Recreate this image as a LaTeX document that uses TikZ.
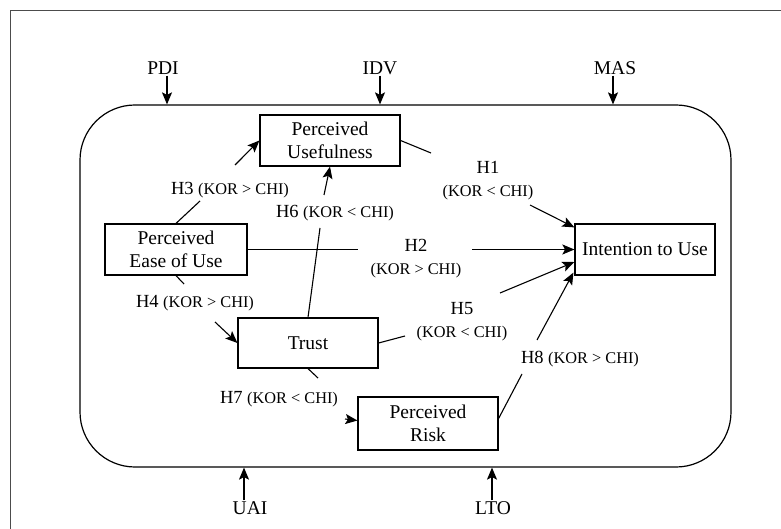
\documentclass[tikz,border=0pt]{standalone}
\usepackage{fontspec}
\setmainfont{Liberation Serif}
\usetikzlibrary{arrows.meta}
\newcommand{\hb}[1]{{\fontsize{18.5}{23}\selectfont #1}}
\newcommand{\hs}[1]{{\fontsize{16.3}{23}\selectfont #1}}
\tikzset{
  box/.style={draw, line width=1.2pt, inner sep=0pt, align=center, font=\fontsize{19.5}{23}\selectfont},
  lbl/.style={inner sep=1pt, align=center, font=\fontsize{18}{23}\selectfont},
  ext/.style={inner sep=1pt, font=\fontsize{19.5}{23}\selectfont},
  arr/.style={line width=1.1pt, -{Stealth[length=12pt,width=10pt,inset=2.5pt]}},
  ln/.style={line width=1.1pt},
}
\begin{document}
\begin{tikzpicture}[x=1pt,y=-1pt]
\useasboundingbox (0,0) rectangle (781,529);
% outer frame (cropped)
\draw[gray!60!black, line width=0.9pt] (10,529) -- (10,10) -- (781,10);
% context rounded rectangle
\node[draw, line width=1.2pt, rounded corners=55pt, minimum width=651pt, minimum height=362pt, inner sep=0pt] (ctx) at (405.5,286) {};
% external factors
\node[ext] (pdi) at (163,68) {PDI};
\node[ext] (idv) at (380,68) {IDV};
\node[ext] (mas) at (615,68) {MAS};
\node[ext] (uai) at (250,508) {UAI};
\node[ext] (lto) at (493,508) {LTO};
\draw[arr] ([xshift=4pt]pdi.south) -- ([xshift=4pt]pdi.south |- ctx.north);
\draw[arr] (idv.south) -- (idv.south |- ctx.north);
\draw[arr] ([xshift=-2pt]mas.south) -- ([xshift=-2pt]mas.south |- ctx.north);
\draw[arr] ([xshift=-6pt]uai.north) -- ([xshift=-6pt]uai.north |- ctx.south);
\draw[arr] ([xshift=-1pt]lto.north) -- ([xshift=-1pt]lto.north |- ctx.south);
% constructs
\node[box, minimum width=140pt, minimum height=51pt] (pu) at (330,140.5) {Perceived\\Usefulness};
\node[box, minimum width=142pt, minimum height=51pt] (peou) at (176,249.5) {Perceived\\Ease of Use};
\node[box, minimum width=140pt, minimum height=50pt] (trust) at (308,343) {Trust};
\node[box, minimum width=140pt, minimum height=53pt] (pr) at (428,423.5) {Perceived\\Risk};
\node[box, minimum width=140pt, minimum height=51pt] (itu) at (645,249.5) {Intention to Use};
% hypothesis labels
\node[lbl] (h3) at (230,190) {\hb{H3} \hs{(KOR > CHI)}};
\node[lbl] (h6) at (335,213) {\hb{H6} \hs{(KOR < CHI)}};
\node[lbl] (h1) at (488,181) {\hb{H1}\\\hs{(KOR < CHI)}};
\node[lbl] (h2) at (416,259) {\hb{H2}\\\hs{(KOR > CHI)}};
\node[lbl] (h5) at (462,322) {\hb{H5}\\\hs{(KOR < CHI)}};
\node[lbl] (h8) at (580,359) {\hb{H8} \hs{(KOR > CHI)}};
\node[lbl] (h4) at (195,303) {\hb{H4} \hs{(KOR > CHI)}};
\node[lbl] (h7) at (279,399) {\hb{H7} \hs{(KOR < CHI)}};
% gap coordinates
\coordinate (h3a) at (200,201); \coordinate (h3b) at (235,165);
\coordinate (h6a) at (320,228); \coordinate (h6b) at (324,195);
\coordinate (h1a) at (431,153); \coordinate (h1b) at (530,205);
\coordinate (h2a) at (358,249.5); \coordinate (h2b) at (472,249.5);
\coordinate (h5a) at (405,336); \coordinate (h5b) at (500,293);
\coordinate (h8a) at (522,374); \coordinate (h8b) at (537,340);
\coordinate (h4a) at (184,284); \coordinate (h4b) at (215,322);
\coordinate (h7a) at (318,378); \coordinate (h7b) at (345,419);
% connectors
\draw[ln] (peou.north) -- (h3a); \draw[arr] (h3b) -- (pu.west);
\draw[ln] (trust.north) -- (h6a); \draw[arr] (h6b) -- (pu.south);
\draw[ln] (pu.east) -- (h1a); \draw[arr] (h1b) -- ([yshift=-4pt]itu.north west);
\draw[ln] (peou.east) -- (h2a); \draw[arr] (h2b) -- (itu.west);
\draw[ln] (trust.east) -- (h5a); \draw[arr] (h5b) -- ([yshift=-12.5pt]itu.west);
\draw[ln] ([yshift=5pt]pr.east) -- (h8a); \draw[arr] (h8b) -- ([xshift=-1pt,yshift=3pt]itu.south west);
\draw[ln] (peou.south) -- (h4a); \draw[arr] (h4b) -- (trust.west);
\draw[ln] (trust.south) -- (h7a); \draw[arr] (h7b) -- ([yshift=3pt]pr.west);
\end{tikzpicture}
\end{document}
